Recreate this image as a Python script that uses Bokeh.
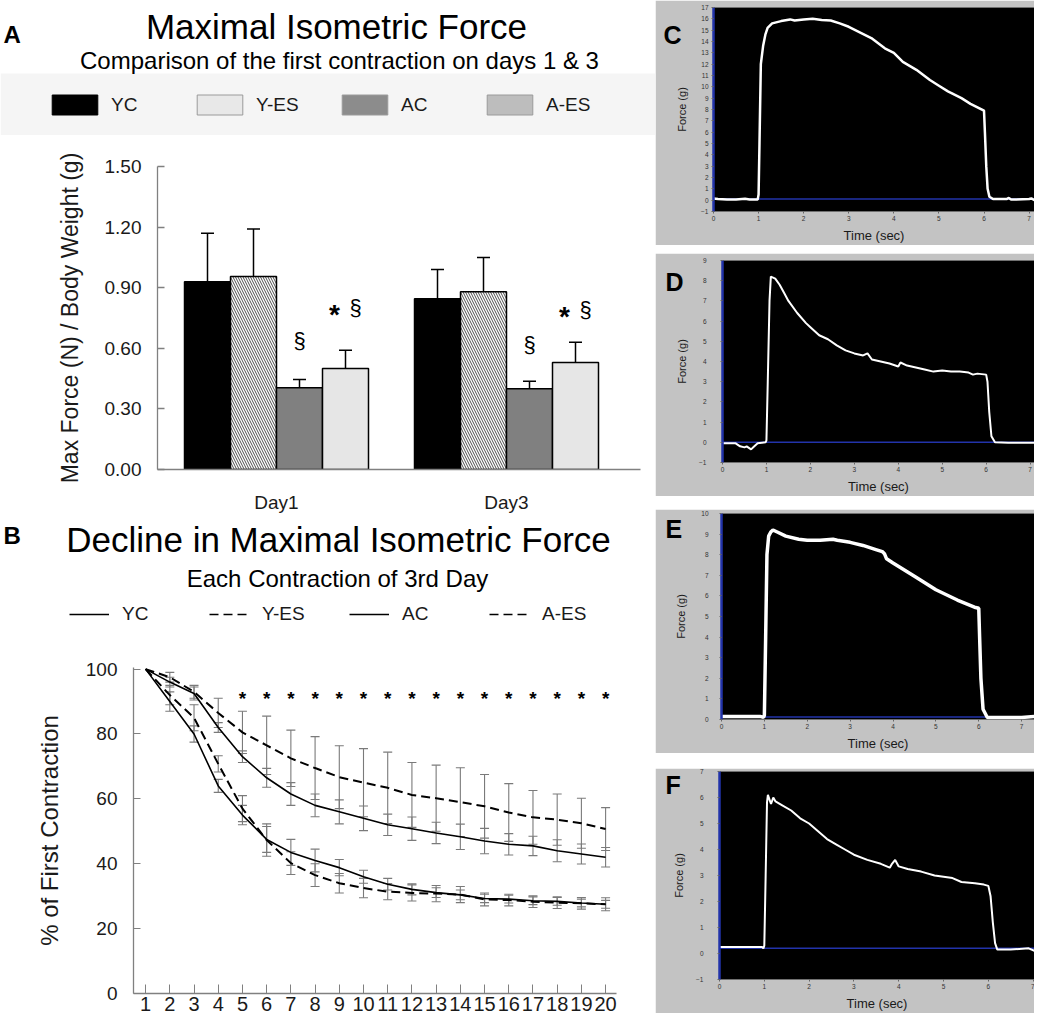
from bokeh.plotting import figure
from bokeh.layouts import row, column
from bokeh.models import (Range1d, Label, Legend, LegendItem, BoxAnnotation, ColumnDataSource,
                          FixedTicker, Span, NumeralTickFormatter, Spacer)
from bokeh.core.properties import value
from bokeh.embed import file_html
from bokeh.resources import INLINE

FONT = "Liberation Sans"

# ---------------- Panel A data ----------------
groups = ["YC", "Y-ES", "AC", "A-ES"]
days = ["Day1", "Day3"]
force_day1 = [0.93, 0.955, 0.405, 0.50]
force_day3 = [0.845, 0.88, 0.40, 0.53]
sem_day1 = [0.24, 0.235, 0.04, 0.09]
sem_day3 = [0.145, 0.17, 0.037, 0.10]
sig_ac_y = [0.64, 0.62]     # "§" above AC bars
sig_aes_y = [0.80, 0.79]    # "* §" above A-ES bars
a_ticks = [0.0, 0.30, 0.60, 0.90, 1.20, 1.50]

# ---------------- Panel B data ----------------
contraction = list(range(1, 21))
yc = [100, 96, 92.5, 82, 73, 66.5, 61.5, 58, 56, 54, 52, 50.8, 49.5, 48.3, 47, 46, 45.5, 44, 43, 42]
yc_err = [0, 1.5, 2, 1.5, 1.8, 2.9, 3.5, 3.5, 3.7, 3.8, 3.3, 3.6, 3.3, 3.9, 3.9, 3.3, 3.0, 3.4, 3.1, 3.0]
yes = [100, 97.5, 93, 86.5, 80.5, 76.5, 72.5, 69.5, 66.7, 65, 63.4, 61.2, 60.2, 59, 57.7, 55.8, 54.3, 53.6, 52.5, 50.7]
yes_err = [0, 1.5, 2, 4.5, 6.5, 9, 8.7, 9.7, 9.7, 10.5, 11, 10, 10.2, 10.6, 9.8, 8.9, 8.3, 7.9, 7.7, 6.6]
ac = [100, 90, 80, 64, 55, 47.5, 43.5, 41, 38.8, 36, 33.7, 32.1, 31.1, 30.4, 29.3, 29.1, 28.6, 28.4, 27.9, 27.5]
ac_err = [0, 3, 2.5, 2, 3, 4, 4, 3.5, 2.5, 2, 1.8, 1.7, 1.5, 1.5, 1.3, 1.2, 1.2, 1.2, 1.2, 1.2]
aes = [100, 92, 85, 70.8, 57, 47.3, 40.2, 36.5, 34, 32.5, 31.4, 31, 30.8, 30.5, 29, 28.8, 28.3, 28, 27.8, 27.5]
aes_err = [0, 3, 4, 2.5, 4, 5, 3.5, 3.5, 3, 3, 2.5, 2.5, 2.5, 2.5, 2, 1.8, 1.8, 1.8, 1.8, 2]
star_x = list(range(5, 21))
star_level = 92.6
b_ticks = [0, 20, 40, 60, 80, 100]

# ---------------- Panels C-F data (force traces) ----------------
C_t = [0, 0.1, 0.3, 0.5, 0.7, 0.8, 0.98, 1.0, 1.02, 1.05, 1.1, 1.15, 1.2, 1.3, 1.5, 1.7, 1.8, 2.0, 2.2, 2.4,
       2.6, 2.8, 3.0, 3.2, 3.5, 3.8, 4.0, 4.2, 4.5, 4.8, 5.0, 5.2, 5.5, 5.7, 5.9, 6.0, 6.02, 6.05, 6.08,
       6.12, 6.2, 6.5, 6.55, 6.6, 7.0, 7.05, 7.12]
C_f = [0.15, 0.1, 0.05, 0.05, 0.12, 0.05, 0.05, 0.5, 5.0, 12.0, 13.6, 14.6, 15.2, 15.6, 15.8, 15.95, 15.85,
       15.95, 16.0, 15.9, 15.85, 15.6, 15.3, 14.9, 14.3, 13.4, 13.0, 12.2, 11.5, 10.6, 10.1, 9.6, 9.0, 8.5,
       8.1, 7.9, 6.0, 3.0, 1.0, 0.3, 0.1, 0.1, 0.2, 0.05, 0.1, 0.15, 0.0]
D_t = [0, 0.3, 0.4, 0.5, 0.55, 0.65, 0.7, 0.8, 0.98, 1.0, 1.03, 1.07, 1.1, 1.2, 1.3, 1.4, 1.5, 1.7, 1.9,
       2.0, 2.2, 2.4, 2.6, 2.8, 3.0, 3.2, 3.3, 3.4, 3.6, 3.8, 4.0, 4.05, 4.2, 4.4, 4.6, 4.8, 5.0, 5.2, 5.4,
       5.6, 5.7, 5.8, 6.0, 6.03, 6.07, 6.12, 6.2, 6.5, 7.12]
D_f = [-0.05, -0.05, -0.2, -0.25, -0.2, -0.35, -0.25, -0.05, 0.0, 0.1, 3.0, 7.0, 8.2, 8.1, 7.8, 7.4, 7.0,
       6.4, 5.9, 5.7, 5.3, 5.1, 4.8, 4.55, 4.4, 4.3, 4.4, 4.1, 4.0, 3.9, 3.75, 3.95, 3.8, 3.7, 3.6, 3.5,
       3.55, 3.5, 3.5, 3.45, 3.35, 3.4, 3.35, 3.0, 1.5, 0.3, 0.0, -0.02, -0.02]
E_t = [0, 0.5, 0.9, 0.98, 1.0, 1.03, 1.06, 1.1, 1.15, 1.2, 1.3, 1.5, 1.8, 2.0, 2.3, 2.6, 2.7, 3.0, 3.3,
       3.6, 3.75, 3.8, 3.85, 4.0, 4.5, 5.0, 5.5, 5.9, 6.0, 6.02, 6.05, 6.1, 6.2, 6.5, 7.0, 7.3]
E_f = [0.15, 0.15, 0.15, 0.1, 0.2, 4.0, 8.0, 8.9, 9.1, 9.2, 9.1, 8.9, 8.75, 8.7, 8.7, 8.75, 8.7, 8.6, 8.45,
       8.25, 8.15, 8.05, 7.8, 7.6, 6.95, 6.3, 5.8, 5.45, 5.4, 4.0, 2.0, 0.5, 0.1, 0.1, 0.1, 0.15]
F_t = [0, 0.5, 0.95, 0.98, 1.0, 1.03, 1.06, 1.08, 1.12, 1.15, 1.2, 1.25, 1.4, 1.6, 1.8, 2.0, 2.2, 2.4, 2.6,
       2.8, 3.0, 3.3, 3.6, 3.8, 3.85, 3.92, 4.0, 4.2, 4.5, 4.8, 5.0, 5.2, 5.4, 5.7, 5.9, 6.0, 6.05, 6.1,
       6.15, 6.2, 6.5, 6.9, 7.03]
F_f = [0.25, 0.25, 0.25, 0.2, 0.3, 3.0, 5.8, 6.1, 5.9, 5.75, 6.0, 5.85, 5.7, 5.5, 5.2, 5.0, 4.7, 4.4, 4.2,
       4.0, 3.8, 3.6, 3.45, 3.3, 3.45, 3.6, 3.35, 3.25, 3.15, 3.0, 2.95, 2.9, 2.75, 2.7, 2.65, 2.6, 2.2,
       1.2, 0.4, 0.15, 0.15, 0.2, 0.1]
baselines = {"C": 0.1, "D": 0.0, "E": 0.12, "F": 0.2}

LEFT_W = 655
RIGHT_W = 379
TXT = "#1a1a1a"
AXG = "#808080"
COMMON = dict(output_backend="svg", toolbar_location=None, frame_align=False)


def header(w, h):
    p = figure(width=w, height=h, x_range=Range1d(0, w), y_range=Range1d(0, h),
               x_axis_type=None, y_axis_type=None, min_border=0, **COMMON)
    p.outline_line_color = None
    p.background_fill_color = "white"
    p.border_fill_color = "white"
    return p


def lab(p, x, y, text, size, bold=False, align="center"):
    p.add_layout(Label(x=x, y=y, text=text, text_font=FONT, text_font_size=size,
                       text_font_style="bold" if bold else "normal", text_align=align,
                       text_baseline="middle", text_color="black"))


# ================= Header A =================
hA = header(LEFT_W, 135)
hA.add_layout(BoxAnnotation(left=0, right=LEFT_W, bottom=0, top=62, fill_color="#f5f5f5",
                            fill_alpha=1, line_color=None, level="underlay"))
lab(hA, 3, 101, "A", "24px", bold=True, align="left")
lab(hA, 336, 109, "Maximal Isometric Force", "35px")
lab(hA, 339, 75, "Comparison of the first contraction on days 1 & 3", "24px")
legA_fill = ["black", "#e8e8e8", "#8c8c8c", "#bdbdbd"]
itemsA = []
for i, (g, c) in enumerate(zip(groups, legA_fill)):
    proxy = ColumnDataSource(data=dict(x=[1], top=[force_day1[i]]))
    r = hA.vbar(x="x", top="top", width=1, source=proxy, fill_color=c,
                line_color="black" if c == "black" else "#9a9a9a", line_width=1, visible=False)
    itemsA.append(LegendItem(label=value(g), renderers=[r]))
hA.add_layout(Legend(items=itemsA, location=(46, 18), orientation="horizontal", glyph_width=57,
                     glyph_height=25, label_standoff=8, label_width=65, spacing=15, padding=0, margin=0,
                     border_line_color=None, background_fill_alpha=0, label_text_font=FONT,
                     label_text_font_size="19px", label_text_color=TXT))

# ================= Plot A =================
pA = figure(width=LEFT_W, height=380, x_range=Range1d(0.4826, 2.5826), y_range=Range1d(0, 1.5),
            min_border_left=157, min_border_right=15, min_border_top=31, min_border_bottom=44, **COMMON)
offsets = [-0.3, -0.1, 0.1, 0.3]
bar_fill = ["black", "white", "#808080", "#e6e6e6"]
xpos = {}
for i, g in enumerate(groups):
    xs = [d + 1 + offsets[i] for d in range(len(days))]
    xpos[g] = xs
    tops = [force_day1[i], force_day3[i]]
    errs = [sem_day1[i], sem_day3[i]]
    src = ColumnDataSource(data=dict(x=xs, top=tops, hi=[t + e for t, e in zip(tops, errs)]))
    kw = dict(hatch_pattern="\\", hatch_color="#4d4d4d", hatch_scale=5, hatch_weight=1) if g == "Y-ES" else {}
    pA.vbar(x="x", top="top", bottom=0, width=0.2, fill_color=bar_fill[i], line_color="black",
            line_width=1.5, source=src, **kw)
    pA.segment(x0="x", y0="top", x1="x", y1="hi", line_color="black", line_width=1.5, source=src)
    pA.scatter(x="x", y="hi", marker="dash", size=13, line_color="black", line_width=1.5, source=src)

pA.text(x=xpos["AC"], y=sig_ac_y, text=["§"] * len(days), text_align="center", text_baseline="middle",
        text_font=value(FONT), text_font_size="22px", text_color="black")
pA.text(x=xpos["A-ES"], y=sig_aes_y, text=["*"] * len(days), text_align="center", text_baseline="middle",
        text_font=value(FONT), text_font_size="28px", text_font_style="bold", x_offset=-11, y_offset=7,
        text_color="black")
pA.text(x=xpos["A-ES"], y=sig_aes_y, text=["§"] * len(days), text_align="center", text_baseline="middle",
        text_font=value(FONT), text_font_size="22px", x_offset=10, text_color="black")

pA.xgrid.visible = False
pA.ygrid.visible = False
pA.outline_line_color = None
xa = pA.xaxis[0]
xa.ticker = FixedTicker(ticks=[1, 2])
xa.major_label_overrides = {1: days[0], 2: days[1]}
xa.major_tick_out = 0
xa.major_tick_in = 0
xa.minor_tick_out = 0
xa.minor_tick_in = 0
xa.axis_line_color = AXG
xa.axis_line_width = 1.3
xa.major_label_standoff = 22
xa.major_label_text_font = FONT
xa.major_label_text_font_size = "19px"
xa.major_label_text_color = TXT
ya = pA.yaxis[0]
ya.ticker = FixedTicker(ticks=a_ticks)
ya.formatter = NumeralTickFormatter(format="0.00")
ya.major_tick_in = 7
ya.major_tick_out = 0
ya.minor_tick_in = 0
ya.minor_tick_out = 0
ya.major_tick_line_color = AXG
ya.major_tick_line_width = 1.3
ya.axis_line_color = AXG
ya.axis_line_width = 1.3
ya.major_label_standoff = 16
ya.major_label_text_font = FONT
ya.major_label_text_font_size = "19px"
ya.major_label_text_color = TXT
ya.axis_label = "Max Force (N) / Body Weight (g)"
ya.axis_label_text_font = FONT
ya.axis_label_text_font_size = "23px"
ya.axis_label_text_font_style = "normal"
ya.axis_label_text_color = TXT
ya.axis_label_standoff = 19

# ================= Header B =================
hB = header(LEFT_W, 125)
lab(hB, 3, 105, "B", "24px", bold=True, align="left")
lab(hB, 338, 101, "Decline in Maximal Isometric Force", "35px")
lab(hB, 337, 62, "Each Contraction of 3rd Day", "24px")
itemsB = []
for g, m, d in zip(groups, [yc, yes, ac, aes], ["solid", "9 5", "solid", "9 5"]):
    proxy = ColumnDataSource(data=dict(x=contraction[:2], y=m[:2]))
    r = hB.line(x="x", y="y", source=proxy, line_color="black", line_width=1.6, line_dash=d, visible=False)
    itemsB.append(LegendItem(label=value(g), renderers=[r]))
hB.add_layout(Legend(items=itemsB, location=(69, 15), orientation="horizontal", glyph_width=40,
                     glyph_height=20, label_standoff=13, label_width=72, spacing=15, padding=0, margin=0,
                     border_line_color=None, background_fill_alpha=0, label_text_font=FONT,
                     label_text_font_size="19px", label_text_color=TXT))

# ================= Plot B =================
pB = figure(width=LEFT_W, height=380, x_range=Range1d(0.5, 20.45), y_range=Range1d(0, 100.5),
            min_border_left=133, min_border_right=39, min_border_top=27, min_border_bottom=27, **COMMON)
series = [(yc, yc_err, "solid", 1.6), (yes, yes_err, "9 5", 2.0), (ac, ac_err, "solid", 1.6),
          (aes, aes_err, "9 5", 2.0)]
for m, e, dash, lw in series:
    src = ColumnDataSource(data=dict(x=contraction[1:], lo=[a - b for a, b in zip(m[1:], e[1:])],
                                     hi=[a + b for a, b in zip(m[1:], e[1:])]))
    pB.segment(x0="x", y0="lo", x1="x", y1="hi", line_color="#7a7a7a", line_width=1.1, source=src)
    pB.scatter(x="x", y="lo", marker="dash", size=9, line_color="#7a7a7a", line_width=1.1, source=src)
    pB.scatter(x="x", y="hi", marker="dash", size=9, line_color="#7a7a7a", line_width=1.1, source=src)
for m, e, dash, lw in series:
    pB.line(x=contraction, y=m, line_color="black", line_width=lw, line_dash=dash)
pB.text(x=star_x, y=[star_level] * len(star_x), text=["*"] * len(star_x), text_align="center",
        text_baseline="middle", text_font=value(FONT), text_font_size="19px", text_font_style="bold",
        y_offset=5, text_color="black")
pB.xgrid.visible = False
pB.ygrid.visible = False
pB.outline_line_color = None
xb = pB.xaxis[0]
xb.ticker = FixedTicker(ticks=contraction)
xb.major_tick_in = 9
xb.major_tick_out = 0
xb.minor_tick_in = 0
xb.minor_tick_out = 0
xb.major_tick_line_color = AXG
xb.axis_line_color = AXG
xb.axis_line_width = 1.3
xb.major_label_standoff = 3
xb.major_label_text_font = FONT
xb.major_label_text_font_size = "20px"
xb.major_label_text_color = TXT
yb = pB.yaxis[0]
yb.ticker = FixedTicker(ticks=b_ticks)
yb.major_tick_in = 7
yb.major_tick_out = 0
yb.minor_tick_in = 0
yb.minor_tick_out = 0
yb.major_tick_line_color = AXG
yb.axis_line_color = AXG
yb.axis_line_width = 1.3
yb.major_label_standoff = 16
yb.major_label_text_font = FONT
yb.major_label_text_font_size = "19px"
yb.major_label_text_color = TXT
yb.axis_label = "% of First Contraction"
yb.axis_label_text_font = FONT
yb.axis_label_text_font_size = "24px"
yb.axis_label_text_font_style = "normal"
yb.axis_label_text_color = TXT
yb.axis_label_standoff = 20


# ================= Panels C-F =================
BLUE = "#2233aa"


def trace_panel(t, f, ymin, ymax, xmax, letter, h, bt, bb, bl, lab_std, axlab_std, lw, letter_x, letter_dy):
    p = figure(width=RIGHT_W, height=h, x_range=Range1d(0, xmax), y_range=Range1d(ymin, ymax),
               min_border_left=bl, min_border_right=0, min_border_top=bt, min_border_bottom=bb, **COMMON)
    p.background_fill_color = "black"
    p.border_fill_color = "#c3c3c3"
    p.outline_line_color = None
    p.xgrid.visible = False
    p.ygrid.visible = False
    p.add_layout(Span(location=baselines[letter], dimension="width", line_color=BLUE, line_width=1.6,
                      level="underlay"))
    p.line(x=t, y=f, line_color="white", line_width=lw)
    y = p.yaxis[0]
    y.ticker = FixedTicker(ticks=list(range(ymin, ymax + 1)))
    y.major_label_text_font = FONT
    y.major_label_text_font_size = "6.5px"
    y.major_label_text_color = "#333333"
    y.major_tick_out = 2
    y.major_tick_in = 0
    y.minor_tick_in = 0
    y.minor_tick_out = 0
    y.major_tick_line_color = "#666666"
    y.axis_line_color = BLUE
    y.axis_line_width = 2.5
    y.major_label_standoff = lab_std
    y.axis_label = "Force (g)"
    y.axis_label_text_font = FONT
    y.axis_label_text_font_size = "11px"
    y.axis_label_text_font_style = "normal"
    y.axis_label_text_color = "#1a1a1a"
    y.axis_label_standoff = axlab_std
    x = p.xaxis[0]
    x.ticker = FixedTicker(ticks=list(range(0, 8)))
    x.major_label_text_font = FONT
    x.major_label_text_font_size = "6.5px"
    x.major_label_text_color = "#333333"
    x.major_tick_out = 2
    x.major_tick_in = 0
    x.minor_tick_in = 0
    x.minor_tick_out = 0
    x.major_tick_line_color = "#666666"
    x.axis_line_color = None
    x.major_label_standoff = 2
    x.axis_label = "Time (sec)"
    x.axis_label_text_font = FONT
    x.axis_label_text_font_size = "13px"
    x.axis_label_text_font_style = "normal"
    x.axis_label_text_color = "#1a1a1a"
    x.axis_label_standoff = 4
    fh = h - bt - bb
    p.add_layout(Label(x=letter_x, y=fh - letter_dy, x_units="screen", y_units="screen", text=letter,
                       text_font=FONT, text_font_size="25px", text_font_style="bold",
                       text_baseline="top", text_align="left", text_color="black"), "left")
    return p


pC = trace_panel(C_t, C_f, -1, 17, 7.12, "C", 245, 7, 29, 54, 3, 10, 2.5, 8, 18)
pD = trace_panel(D_t, D_f, -1, 9, 7.1, "D", 243, 7, 26, 62, 14, 8, 2.0, 10, 15)
pE = trace_panel(E_t, E_f, 0, 10, 7.3, "E", 244, 4, 28, 63, 11, 11, 3.5, 10, 7)
pF = trace_panel(F_t, F_f, -1, 7, 7.03, "F", 245, 3, 27, 62, 14, 8, 2.0, 10, 6)

left = column(hA, pA, hB, pB, spacing=0)
right = column(pC, Spacer(width=RIGHT_W, height=8), pD, Spacer(width=RIGHT_W, height=13), pE,
               Spacer(width=RIGHT_W, height=15), pF, spacing=0)
layout = row(left, right, spacing=0)

open("out.html", "w").write(file_html(layout, INLINE))
